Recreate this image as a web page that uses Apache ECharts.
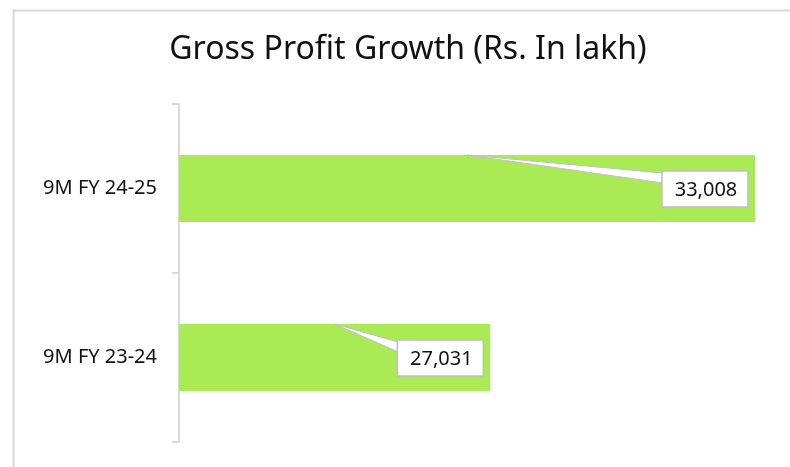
<!DOCTYPE html>
<html>
<head>
<meta charset="utf-8">
<script src="https://cdn.jsdelivr.net/npm/echarts@6/dist/echarts.min.js"></script>
<style>
  html, body { margin: 0; padding: 0; background: #fff; }
  #chart { width: 790px; height: 467px; }
</style>
</head>
<body>
<div id="chart"></div>
<script>
// data
const categories = ['9M FY 23-24', '9M FY 24-25'];
const grossProfit = [27031, 33008];
const titleText = 'Gross Profit Growth (Rs. In lakh)';

const axisMin = 20000;
const axisMax = 33460;
const barColor = '#a9ea55';
const fontFamily = '"Noto Sans", sans-serif';

const calloutData = grossProfit.map((v, i) => [v, i]);

function renderCallout(params, api) {
  const idx = api.value(1);
  const val = api.value(0);
  const end = api.coord([val, idx]);
  const start = api.coord([axisMin, idx]);
  const barH = 67;
  const top = end[1] - barH / 2;
  const mid = (start[0] + end[0]) / 2;
  const boxW = 86, boxH = 36;
  const boxRight = end[0] - 7;
  const boxLeft = boxRight - boxW;
  const boxTop = top + 16;
  return {
    type: 'group',
    children: [
      {
        type: 'polygon',
        shape: { points: [[mid, top], [boxLeft + 1, boxTop + 2], [boxLeft + 1, boxTop + 12]] },
        style: { fill: '#fff', stroke: '#bfbfbf', lineWidth: 1 }
      },
      {
        type: 'rect',
        shape: { x: boxLeft, y: boxTop, width: boxW, height: boxH },
        style: { fill: '#fff', stroke: '#bfbfbf', lineWidth: 1.5 }
      },
      {
        type: 'text',
        style: {
          x: boxLeft + boxW / 2 + 1, y: boxTop + boxH / 2 + 1,
          text: val.toLocaleString('en-US'),
          align: 'center', verticalAlign: 'middle',
          font: '20px ' + fontFamily, fill: '#111'
        }
      }
    ]
  };
}

const chart = echarts.init(document.getElementById('chart'));
chart.setOption({
  animation: false,
  backgroundColor: '#fff',
  title: {
    text: titleText,
    left: 403,
    textAlign: 'center',
    top: 29,
    textStyle: { fontFamily: fontFamily, fontSize: 32, fontWeight: 'normal', color: '#111' }
  },
  graphic: [{
    type: 'rect',
    shape: { x: 13.5, y: 10.5, width: 800, height: 500 },
    style: { fill: 'none', stroke: '#d9d9d9', lineWidth: 2 },
    silent: true,
    z: -10
  }],
  grid: { left: 179, right: 15, top: 104, bottom: 25 },
  xAxis: {
    type: 'value',
    min: axisMin,
    max: axisMax,
    show: false
  },
  yAxis: {
    type: 'category',
    data: categories,
    axisLine: { show: true, lineStyle: { color: '#d9d9d9', width: 2 } },
    axisTick: { show: true, length: 7, lineStyle: { color: '#d9d9d9', width: 2 } },
    axisLabel: { margin: 22, fontFamily: fontFamily, fontSize: 20, color: '#111' },
    splitLine: { show: false }
  },
  series: [
    {
      type: 'bar',
      data: grossProfit,
      barWidth: 67,
      itemStyle: { color: barColor },
      z: 2
    },
    {
      type: 'custom',
      data: calloutData,
      encode: { x: 0, y: 1 },
      renderItem: renderCallout,
      clip: false,
      z: 5
    }
  ]
});
</script>
</body>
</html>
